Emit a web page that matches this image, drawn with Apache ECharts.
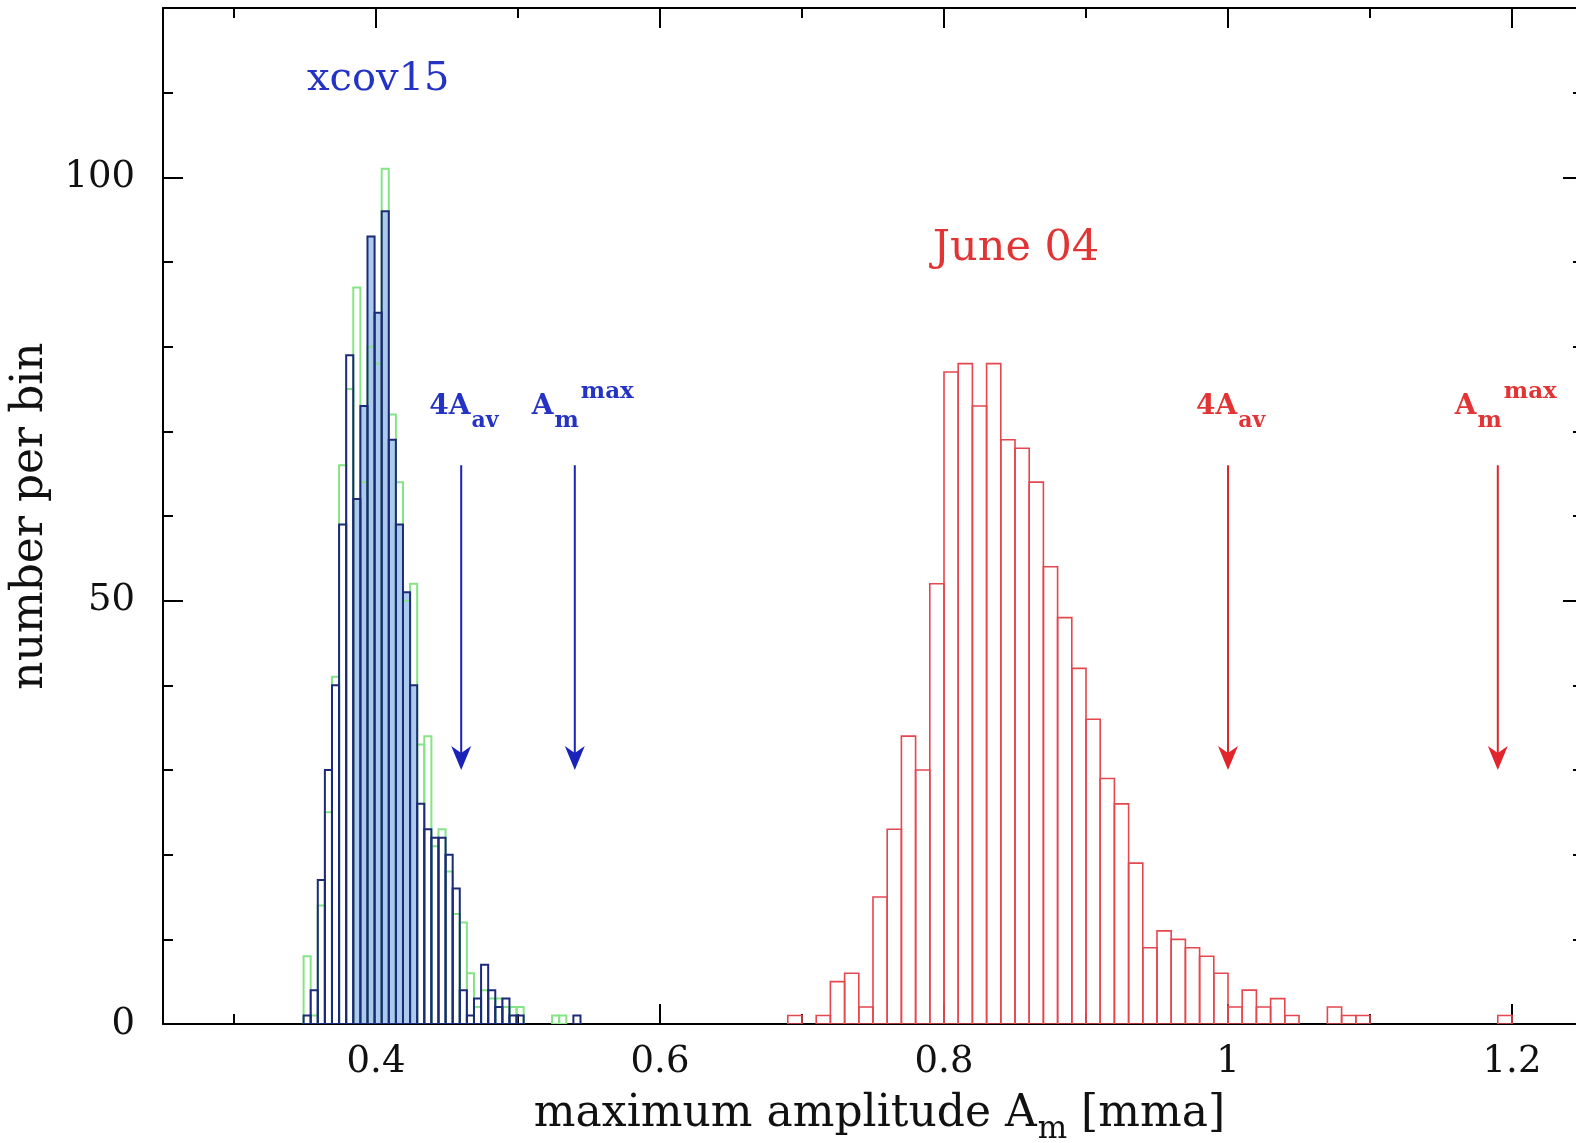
<!DOCTYPE html>
<html><head><meta charset="utf-8">
<script src="https://cdn.jsdelivr.net/npm/echarts@6/dist/echarts.min.js"></script>
<style>html,body{margin:0;padding:0;background:#fff}#c{width:1576px;height:1143px}</style>
</head><body><div id="c"></div>
<script>
// ---------------- DATA ----------------
const blueStart = 0.349, blueBinWidth = 0.005;
const blueCounts  = [1,4,17,30,40,59,79,62,73,93,84,96,69,59,51,40,26,23,22,22,20,16,4,1,3,7,4,2,3,1,1,0,0,0,0,0,0,0,1];
const greenCounts = [8,1,14,25,41,66,75,87,64,80,78,101,72,64,50,52,33,34,21,23,18,13,12,6,2,4,3,3,2,2,2,0,0,0,0,1,1,0,0];
const redStart = 0.69, redBinWidth = 0.01;
const redCounts = [1,0,1,5,6,2,15,23,34,30,52,77,78,73,78,69,68,64,54,48,42,36,29,26,19,9,11,10,9,8,6,2,4,2,3,1,0,0,2,1,1,0,0,0,0,0,0,0,0,0,1];
const xLabelTicks = [0.4,0.6,0.8,1,1.2];
const xMinorTicks = [0.3,0.5,0.7,0.9,1.1];
const yLabelTicks = [0,50,100];
const arrowKinds = ['avg','max'];
const blueArrowX = [0.46,0.54];
const redArrowX = [1.0,1.19];
const arrowTop = 66, arrowTip = 30;
const blueShadeRange = [0.3835,0.4295];

// ---------------- STYLE ----------------
const FONT = '"DejaVu Serif", "Liberation Serif", serif';
const BLUE_LINE = '#1d2a78', GREEN_LINE = '#86e486', RED_LINE = '#e4474e';
const BLUE_TXT = '#2433c4', RED_TXT = '#e23434';
const mctx = document.createElement('canvas').getContext('2d');
function tw(t, size, weight){ mctx.font = (weight||'normal')+' '+size+'px '+FONT; return mctx.measureText(t).width; }

function bins(start, w, counts){
  return counts.map((c,i)=>[+(start+i*w).toFixed(5), +(start+(i+1)*w).toFixed(5), c]);
}
const blueData = bins(blueStart, blueBinWidth, blueCounts);
const greenData = bins(blueStart, blueBinWidth, greenCounts);
const redData = bins(redStart, redBinWidth, redCounts);

function histSeries(data, stroke, lw, fillFn, z){
  return {type:'custom', data, xAxisIndex:0, yAxisIndex:0, clip:true, silent:true, z,
    renderItem(p, api){
      const lo=api.value(0), hi=api.value(1), c=api.value(2);
      if(!c) return null;
      const fill = fillFn ? fillFn(lo,hi) : 'none';
      if(stroke==='none' && fill==='none') return null;
      const a=api.coord([lo,c]), b=api.coord([hi,0]);
      return {type:'rect', shape:{x:a[0], y:a[1], width:b[0]-a[0], height:b[1]-a[1]},
        style:{fill, stroke: stroke, lineWidth: lw}};
    }};
}

function txt(x,y,text,size,weight,color){
  return {type:'text', x, y, style:{text, fontSize:size, fontFamily:FONT, fontWeight:weight, fill:color, align:'left', verticalAlign:'middle'}};
}

function arrowSeries(xs, color, tcolor){
  const data = xs.map(x=>[x, arrowTop, arrowTip]);
  return {type:'custom', data, xAxisIndex:0, yAxisIndex:0, clip:false, silent:true, z:6,
    renderItem(p, api){
      const x=api.value(0), top=api.value(1), tip=api.value(2);
      const a=api.coord([x,top]), b=api.coord([x,tip]);
      const hw=10, hh=24, notch=7;
      const ch=[
        {type:'line', shape:{x1:a[0],y1:a[1],x2:b[0],y2:b[1]-hh+notch}, style:{stroke:color, lineWidth:2}},
        {type:'polygon', shape:{points:[[b[0],b[1]],[b[0]-hw,b[1]-hh],[b[0],b[1]-hh+notch],[b[0]+hw,b[1]-hh]]}, style:{fill:color}}
      ];
      const kind = arrowKinds[p.dataIndex];
      const yMain=a[1]-58, ySub=a[1]-44, ySup=a[1]-73;
      if(kind==='avg'){
        const l=a[0]-32; const w=tw('4A',28,'bold');
        ch.push(txt(l,yMain,'4A',28,'bold',tcolor));
        ch.push(txt(l+w+1,ySub,'av',22,'bold',tcolor));
      } else {
        const l=a[0]-43; const w=tw('A',28,'bold'); const wm=tw('m',23,'bold');
        ch.push(txt(l,yMain,'A',28,'bold',tcolor));
        ch.push(txt(l+w+1,ySub,'m',23,'bold',tcolor));
        ch.push(txt(l+w+wm+3,ySup,'max',23,'bold',tcolor));
      }
      return {type:'group', children:ch};
    }};
}

const axisCommon = {type:'value', min:0.25, max:1.25, splitLine:{show:false}};
const tickStyle = {color:'#000', width:2};
const xAxes = [
  Object.assign({}, axisCommon, {position:'bottom', axisLine:{show:true, onZero:false, lineStyle:{color:'#000',width:2}},
    axisTick:{show:true, inside:true, length:10, customValues:xMinorTicks, lineStyle:tickStyle},
    axisLabel:{show:true, customValues:xLabelTicks, fontFamily:FONT, fontSize:37, color:'#111', margin:20}}),
  Object.assign({}, axisCommon, {position:'bottom', axisLine:{show:false, onZero:false},
    axisTick:{show:true, inside:true, length:20, customValues:xLabelTicks, lineStyle:tickStyle}, axisLabel:{show:false}}),
  Object.assign({}, axisCommon, {position:'top', axisLine:{show:true, onZero:false, lineStyle:{color:'#000',width:2}},
    axisTick:{show:true, inside:true, length:10, customValues:xMinorTicks, lineStyle:tickStyle}, axisLabel:{show:false}}),
  Object.assign({}, axisCommon, {position:'top', axisLine:{show:false, onZero:false},
    axisTick:{show:true, inside:true, length:20, customValues:xLabelTicks, lineStyle:tickStyle}, axisLabel:{show:false}})
];
const yCommon = {type:'value', min:0, max:120, interval:10, splitLine:{show:false}};
const yAxes = [
  Object.assign({}, yCommon, {position:'left', axisLine:{show:true, onZero:false, lineStyle:{color:'#000',width:2}},
    axisTick:{show:true, inside:true, length:10, lineStyle:tickStyle},
    axisLabel:{show:true, customValues:yLabelTicks, fontFamily:FONT, fontSize:37, color:'#111', margin:28},
    name:'number per bin', nameLocation:'middle', nameRotate:90, nameGap:110,
    nameTextStyle:{fontFamily:FONT, fontSize:44, color:'#111'}}),
  Object.assign({}, yCommon, {position:'left', axisLine:{show:false, onZero:false},
    axisTick:{show:true, inside:true, length:20, customValues:yLabelTicks, lineStyle:tickStyle}, axisLabel:{show:false}}),
  Object.assign({}, yCommon, {position:'right', axisLine:{show:true, onZero:false, lineStyle:{color:'#000',width:2}},
    axisTick:{show:true, inside:true, length:10, lineStyle:tickStyle}, axisLabel:{show:false}}),
  Object.assign({}, yCommon, {position:'right', axisLine:{show:false, onZero:false},
    axisTick:{show:true, inside:true, length:20, customValues:yLabelTicks, lineStyle:tickStyle}, axisLabel:{show:false}})
];

// axis title pieces
const tA = 'maximum amplitude A', tM = 'm', tB = ' [mma]';
const sA = 44, sM = 31;
const wA = tw(tA,sA), wM = tw(tM,sM), wB = tw(tB,sA);
const titleCx = 879, titleY = 1115;
const tx0 = titleCx - (wA+wM+wB)/2;

const chart = echarts.init(document.getElementById('c'), null, {renderer:'canvas'});
chart.setOption({
  animation:false,
  backgroundColor:'#fff',
  grid:{left:163, top:8, width:1420, height:1016, containLabel:false, outerBoundsMode:'none'},
  xAxis:xAxes,
  yAxis:yAxes,
  graphic:[
    txt(307,80,'xcov15',40,'normal',BLUE_TXT),
    {type:'text', x:1016, y:249, style:{text:'June 04', fontSize:43, fontFamily:FONT, fill:RED_TXT, align:'center', verticalAlign:'middle'}},
    txt(tx0,titleY,tA,sA,'normal','#111'),
    txt(tx0+wA+1,titleY+15,tM,sM,'normal','#111'),
    txt(tx0+wA+wM+1,titleY,tB,sA,'normal','#111')
  ],
  series:[
    histSeries(blueData, 'none', 0, (lo,hi)=> (lo>=blueShadeRange[0] && hi<=blueShadeRange[1]) ? '#aacbee' : 'none', 1),
    histSeries(greenData, GREEN_LINE, 2, null, 2),
    histSeries(blueData, BLUE_LINE, 2, null, 3),
    histSeries(redData, RED_LINE, 1.6, null, 3),
    arrowSeries(blueArrowX, '#1a22b8', BLUE_TXT),
    arrowSeries(redArrowX, '#e0262c', RED_TXT)
  ]
});
</script></body></html>
